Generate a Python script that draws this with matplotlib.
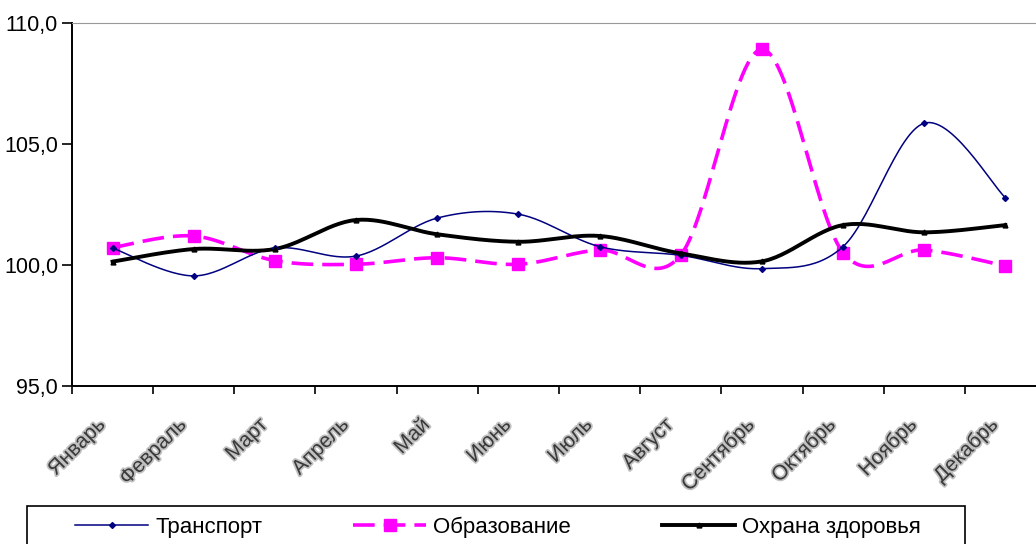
import matplotlib
matplotlib.use("Agg")
import matplotlib.pyplot as plt
import matplotlib.patheffects as pe
import matplotlib.transforms as mtransforms
from matplotlib.patches import Rectangle
import numpy as np

plt.rcParams['font.family'] = ['Liberation Sans', 'DejaVu Sans']

# Data
months = ['Январь', 'Февраль', 'Март', 'Апрель', 'Май', 'Июнь',
          'Июль', 'Август', 'Сентябрь', 'Октябрь', 'Ноябрь', 'Декабрь']
transport = [100.7, 99.55, 100.7, 100.37, 101.94, 102.1,
             100.76, 100.4, 99.85, 100.76, 105.86, 102.78]
education = [100.72, 101.2, 100.18, 100.03, 100.3, 100.03,
             100.62, 100.41, 108.91, 100.51, 100.62, 99.96]
health = [100.14, 100.66, 100.66, 101.86, 101.27, 100.96,
          101.2, 100.48, 100.15, 101.65, 101.35, 101.65]
y_ticks = [95, 100, 105, 110]


# Excel-like smoothed line: cubic Bezier pieces through the points
def smooth(x, y, steps=30):
    x = np.asarray(x, float)
    y = np.asarray(y, float)
    px = np.concatenate([[x[0]], x, [x[-1]]])
    py = np.concatenate([[y[0]], y, [y[-1]]])
    t = np.linspace(0, 1, steps)
    xs, ys = [], []
    for i in range(1, len(px) - 2):
        p0 = np.array([px[i - 1], py[i - 1]])
        p1 = np.array([px[i], py[i]])
        p2 = np.array([px[i + 1], py[i + 1]])
        p3 = np.array([px[i + 2], py[i + 2]])
        c1 = p1 + (p2 - p0) / 6.0
        c2 = p2 - (p3 - p1) / 6.0
        pts = ((1 - t) ** 3)[:, None] * p1 + (3 * (1 - t) ** 2 * t)[:, None] * c1 \
            + (3 * (1 - t) * t ** 2)[:, None] * c2 + (t ** 3)[:, None] * p2
        xs.extend(pts[:, 0])
        ys.extend(pts[:, 1])
    return xs, ys


fig = plt.figure(figsize=(10.36, 5.44), dpi=100)
ax = fig.add_axes([72 / 1036, 1 - 386 / 544, (1046 - 72) / 1036, (386 - 23) / 544])

x = np.arange(len(months))

# Транспорт
sx, sy = smooth(x, transport)
ax.plot(sx, sy, color='#000080', lw=1.1, zorder=3)
ax.plot(x, transport, ls='none', marker='D', ms=3, color='#000080', zorder=4)
# Образование
sx, sy = smooth(x, education)
ax.plot(sx, sy, color='#FF00FF', lw=2.6, ls=(0, (6, 2.5)), zorder=2)
ax.plot(x, education, ls='none', marker='s', ms=9, color='#FF00FF', zorder=2)
# Охрана здоровья
sx, sy = smooth(x, health)
ax.plot(sx, sy, color='black', lw=2.8, zorder=3)
ax.plot(x, health, ls='none', marker='^', ms=3.5, color='black', zorder=4)

ax.set_xlim(-0.5, len(months) - 0.5)
ax.set_ylim(95, 110)
ax.set_yticks(y_ticks)
ax.set_yticklabels([('%.1f' % v).replace('.', ',') for v in y_ticks])
ax.tick_params(axis='y', direction='out', length=7, width=1.2, labelsize=15.5, pad=3)

# x ticks between categories, month names placed as rotated texts
ax.set_xticks(np.arange(-0.5, len(months), 1.0))
ax.set_xticklabels([])
ax.tick_params(axis='x', which='major', direction='out', length=6, width=1.2)
shift = mtransforms.ScaledTranslation(-17 / 100, -29 / 100, fig.dpi_scale_trans)
for i, m in enumerate(months):
    ax.text(i, 0, m, transform=ax.get_xaxis_transform() + shift,
            rotation=45, ha='right', va='top', rotation_mode='anchor',
            fontsize=15, color='#3a3a3a',
            path_effects=[pe.withStroke(linewidth=2.5, foreground='#c0c0c0')])

ax.spines['right'].set_visible(False)
ax.spines['top'].set_color('#999999')
ax.spines['left'].set_linewidth(1.4)
ax.spines['bottom'].set_linewidth(1.4)

# legend box at the bottom (runs off the lower edge)
fig.patches.append(Rectangle((27 / 1036, -0.05), (965 - 27) / 1036, 0.05 + 1 - 506 / 544,
                             transform=fig.transFigure, fill=False, lw=1.2, ec='black'))
h1, = ax.plot([], [], color='#000080', lw=1.1, marker='D', ms=3)
h2, = ax.plot([], [], color='#FF00FF', lw=2.6, ls=(0, (6, 2.5)), marker='s', ms=9)
h3, = ax.plot([], [], color='black', lw=2.8, marker='^', ms=3.5)
fig.legend([h1, h2, h3], ['Транспорт', 'Образование', 'Охрана здоровья'],
           loc='center left', bbox_to_anchor=(75 / 1036, 1 - 527 / 544), ncol=3,
           frameon=False, fontsize=16, handlelength=3.3, handletextpad=0.3,
           columnspacing=4.1, borderpad=0, borderaxespad=0)

fig.savefig('out.png', dpi=100)
